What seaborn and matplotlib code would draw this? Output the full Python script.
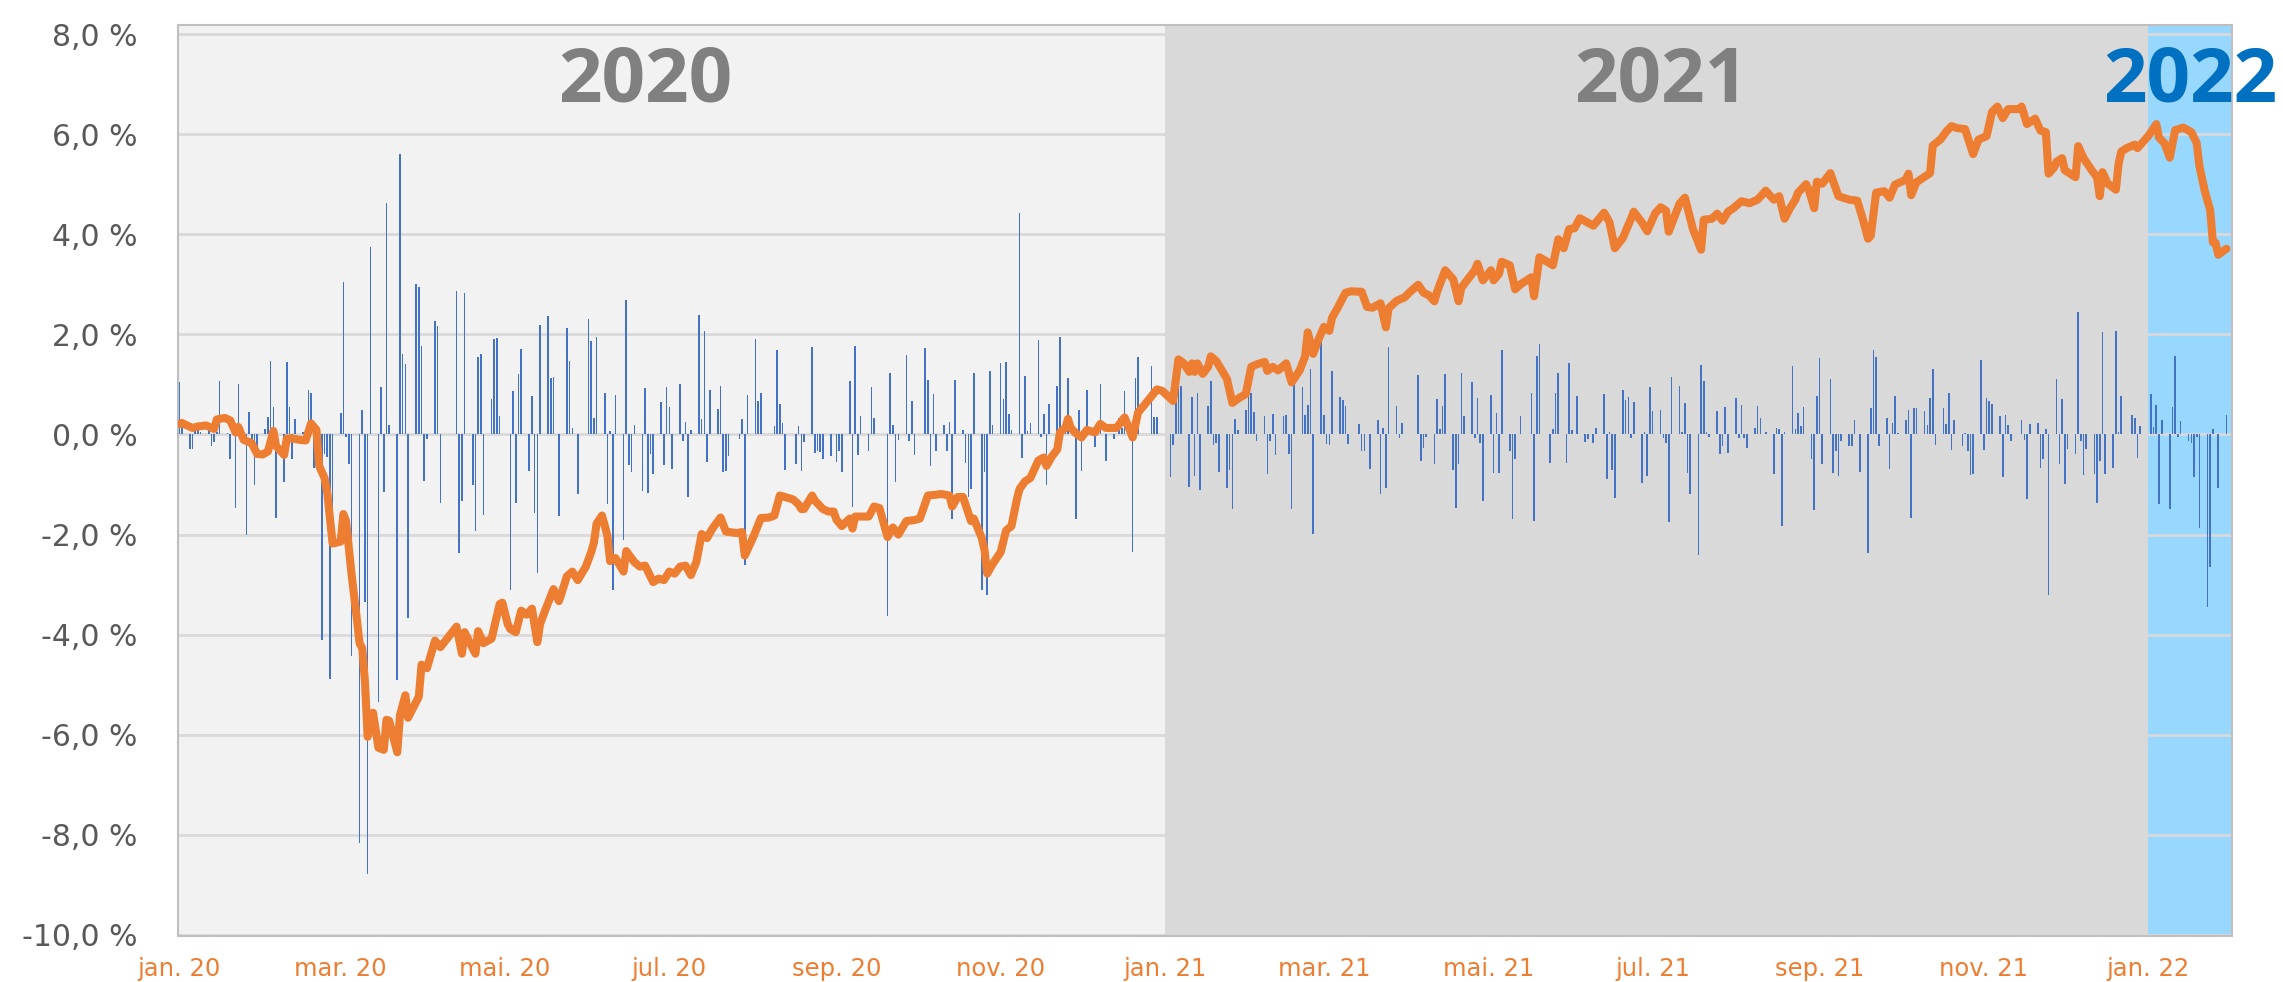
import numpy as np
import pandas as pd
import matplotlib
matplotlib.use("Agg")
import matplotlib.pyplot as plt
import matplotlib.dates as mdates
import seaborn as sns

# ---------------- data ----------------
# daily returns (%), one row per week Mon..Fri
bars_2020 = [  # weeks starting Mon 2019-12-30
    [0, 0, 0, 1.04, 0.2],
    [-0.3, -0.3, 0.1, 0.1, 0.05],
    [0.1, -0.23, -0.15, 0.05, 1.06],
    [0.03, -0.49, 0.1, -1.46, 1.01],
    [-2.0, 0.44, -0.3, -1.0, -0.25],
    [0.1, 0.34, 1.47, 0.55, -1.67],
    [-0.95, 1.44, 0.54, -0.49, 0.3],
    [0.05, 0.05, 0.89, 0.83, -0.68],
    [-4.1, -0.4, -0.45, -4.89, -1.5],
    [0.42, 3.04, -0.05, -0.6, -4.43],
    [-8.17, 0.49, -3.34, -8.78, 3.75],
    [-5.35, 0.94, -1.15, 4.63, 0.19],
    [-4.91, 5.61, 1.61, 1.41, -3.66],
    [3.0, 2.95, 1.76, -0.92, -0.1],
    [2.27, 2.16, -1.36, 0.0, 0.0],
    [0.0, 2.86, -2.37, -1.33, 2.83],
    [-1.0, -1.92, 1.55, 1.61, -1.6],
    [0.71, 1.9, 1.92, 0.37, 0.0],
    [-3.1, 0.87, -1.36, 1.2, 1.7],
    [-0.73, 0.76, -1.56, -2.77, 2.19],
    [2.37, 1.12, 1.15, 0.0, -1.62],
    [2.12, 1.47, 0.13, 0.0, -1.18],
    [0.0, 2.3, 1.87, 0.33, 1.94],
    [0.83, -1.38, 0.06, -3.1, 0.78],
    [-2.11, 2.69, -0.62, -0.75, 0.19],
    [-1.13, 0.92, -1.16, -0.39, -0.8],
    [0.65, -0.61, 0.94, 0.55, -0.69],
    [1.01, -0.13, 0.24, -1.25, 0.08],
    [2.39, 0.3, 2.07, -0.56, 0.89],
    [0.5, 0.97, -0.75, -0.73, -0.44],
    [0.0, -0.1, 0.3, -2.61, 0.78],
    [1.91, 0.66, 0.83, 0.0, 0.0],
    [0.16, 1.69, 0.61, 0.22, -0.71],
    [0.0, -0.6, 0.16, -0.73, -0.15],
    [1.75, -0.37, -0.33, -0.35, -0.49],
    [-0.44, 0.0, -0.55, -0.33, -0.76],
    [1.06, -1.44, 1.76, -0.41, 0.37],
    [-0.33, 0.95, 0.33, 0.0, 0.0],
    [-3.63, 1.22, 0.19, -0.94, -0.11],
    [1.59, -0.13, 0.66, -0.41, 0.0],
    [1.73, 1.09, -0.64, 0.8, -0.33],
    [0.19, -0.33, 0.25, -1.68, 1.09],
    [0.09, -0.58, -1.25, -1.09, 1.22],
    [-3.1, -0.76, -3.2, 1.26, 0.19],
    [1.43, 0.7, 1.45, 0.4, 0.08],
    [4.42, -0.48, 1.17, 0.06, 0.22],
    [1.89, -0.06, 0.4, -1.0, 0.61],
    [0.97, 1.95, -0.1, 0.2, 1.12],
    [-1.68, 0.49, -0.73, 0.1, 0.89],
    [-0.25, 0.0, 1.0, 0.0, -0.54],
    [-0.1, 0.0, 0.33, 0.13, 0.87],
    [-2.35, 1.12, 1.55, 0.0, 0.0],
    [1.36, 0.34, 0.34, 0.0, 0.0],
]
bars_2021 = [  # weeks starting Mon 2021-01-04
    [-0.85, -0.22, 0.87, 1.35, 0.97],
    [-1.04, 0.75, -0.83, 0.82, -1.11],
    [0.57, 1.07, -0.21, -0.17, -0.75],
    [-1.06, -0.72, -1.49, 0.3, 0.08],
    [0.49, 0.83, 0.82, 0.45, -0.13],
    [0.36, -0.8, -0.13, 0.41, -0.42],
    [0.36, 0.39, -0.39, -1.49, 1.07],
    [0.95, 0.39, 0.59, 1.31, -1.98],
    [1.9, 0.39, -0.2, -0.21, 1.26],
    [0.75, 0.68, 0.57, -0.2, 0.0],
    [0.21, -0.34, -0.34, 0.0, -0.7],
    [0.28, -1.18, 0.13, -1.06, 1.75],
    [0.57, -0.07, 0.23, 0.0, 0.0],
    [0.0, 1.18, -0.54, -0.27, -0.06],
    [-0.6, 0.7, 0.11, 0.57, 1.21],
    [-0.72, -1.47, -0.6, 1.23, 0.36],
    [1.05, -0.07, 0.73, -0.17, -1.32],
    [0.78, -0.78, 0.43, -0.78, 1.69],
    [-0.34, -1.68, -0.5, 0.0, 0.36],
    [0.0, 0.82, -1.73, 1.57, 1.8],
    [0.0, -0.58, 0.1, 0.82, 1.23],
    [-0.58, 1.43, 0.08, 0.0, 0.76],
    [-0.15, -0.1, 0.0, -0.17, 0.13],
    [0.8, -0.89, 0.04, -0.72, -1.27],
    [0.88, 0.68, 0.75, -0.07, 0.64],
    [-0.96, 0.04, -0.83, 0.94, 0.47],
    [0.49, -0.07, -0.17, -1.75, 1.14],
    [0.96, 0.04, 0.63, -0.78, -1.18],
    [-2.4, 1.38, 1.07, 0.04, -0.05],
    [0.47, -0.39, -0.23, 0.54, -0.37],
    [0.73, -0.07, 0.59, -0.07, -0.27],
    [0.13, 0.57, 0.32, 0.0, 0.04],
    [-0.8, 0.13, 0.11, -1.83, 0.04],
    [1.36, 0.11, 0.42, 0.17, 0.54],
    [-0.5, -1.51, 0.76, 1.52, -0.6],
    [1.11, -0.78, -0.34, -0.83, -0.13],
    [-0.23, -0.23, 0.28, 0.0, -0.75],
    [-2.37, 0.52, 1.69, 1.54, -0.23],
    [0.33, -0.7, 0.22, 0.76, 0.03],
    [0.29, 0.49, -1.67, 0.52, 0.52],
    [0.47, 0.18, 0.73, 1.31, -0.22],
    [0.52, 0.21, 0.82, -0.32, 0.28],
    [-0.23, 0.03, -0.34, -0.82, -0.8],
    [1.49, -0.32, 0.72, 0.66, 0.61],
    [0.36, -0.85, 0.39, 0.18, -0.14],
    [0.0, 0.28, -0.12, -1.29, 0.21],
    [0.23, -0.68, -0.5, 0.1, -3.2],
    [1.11, -0.6, 0.7, -0.98, -0.3],
    [-0.39, 2.45, -0.13, -0.81, -0.3],
    [-0.8, -1.36, -0.54, 2.04, -0.8],
    [-0.67, 2.07, 0.04, 0.76, 0.0],
    [0.39, 0.33, -0.47, 0.17, 0.0],
]
bars_2022 = [  # weeks starting Mon 2022-01-03
    [0.8, 0.14, 0.59, -1.39, 0.28],
    [-1.49, 0.54, 1.57, -0.06, 0.26],
    [-0.14, -0.18, -0.85, -0.06, -1.87],
    [-3.45, -2.64, 0.1, 0.0, -1.07],
    [0.39],
]

# cumulative line (%): day offset from 2020-01-01 and value
line_day = [1, 2, 6, 8, 11, 14, 15, 18, 20, 22, 23, 25, 27, 28, 30, 32, 34, 36, 37, 40,
            41, 43, 46, 48, 50, 52, 53, 55, 56, 58, 61, 62, 63, 65, 67, 68, 69, 70, 71, 73,
            75, 77, 78, 79, 82, 83, 85, 86, 90, 91, 93, 96, 98, 104, 106, 107, 111, 112, 114, 117,
            120, 121, 123, 124, 126, 128, 130, 132, 134, 135, 137, 140, 142, 143, 145, 147, 149, 152, 154, 155,
            156, 158, 160, 161, 163, 166, 167, 170, 172, 174, 177, 179, 181, 183, 185, 187, 189, 191, 193, 195,
            197, 199, 202, 204, 208, 210, 211, 214, 217, 220, 222, 224, 226, 229, 231, 232, 233, 236, 237, 240,
            242, 244, 245, 247, 250, 251, 252, 257, 259, 261, 264, 266, 268, 271, 274, 276, 279, 281, 284, 287,
            288, 290, 292, 295, 296, 299, 300, 301, 303, 306, 308, 310, 312, 313, 315, 317, 320, 322, 323, 325,
            327, 328, 330, 331, 332, 334, 336, 338, 341, 343, 345, 349, 352, 353, 355, 357, 360, 364, 366, 370,
            372, 374, 376, 377, 378, 379, 381, 383, 384, 386, 388, 390, 391, 392, 394, 397, 399, 401, 404, 405,
            407, 409, 412, 414, 417, 419, 420, 422, 424, 426, 428, 429, 431, 434, 436, 440, 442, 444, 447, 449,
            450, 453, 456, 458, 461, 463, 465, 467, 468, 471, 474, 476, 477, 480, 482, 483, 485, 488, 489, 491,
            492, 495, 497, 499, 503, 504, 506, 511, 513, 515, 517, 519, 521, 526, 530, 532, 534, 537, 540, 541,
            544, 546, 549, 551, 553, 554, 557, 558, 560, 563, 566, 567, 570, 572, 574, 576, 578, 581, 584, 587,
            590, 593, 595, 597, 599, 601, 602, 605, 606, 608, 609, 611, 614, 617, 621, 624, 626, 628, 629, 631,
            634, 636, 638, 642, 643, 644, 646, 651, 652, 655, 657, 659, 661, 664, 667, 669, 672, 674, 676, 678,
            680, 684, 685, 687, 690, 692, 694, 695, 697, 698, 700, 701, 705, 706, 708, 711, 713, 714, 715, 717,
            720, 721, 722, 724, 727, 728, 732, 735, 736, 738, 740, 742, 745, 748, 750, 751, 753, 755, 756, 757,
            758, 761]
line_val = [0.21, 0.23, 0.13, 0.16, 0.18, 0.11, 0.30, 0.33, 0.28, 0.04, 0.15, -0.11, -0.15, -0.18, -0.39, -0.40, -0.34, 0.07, -0.23, -0.41,
            -0.08, -0.08, -0.11, -0.12, 0.22, 0.09, -0.63, -0.87, -1.16, -2.18, -2.14, -1.59, -1.73, -2.78, -3.69, -4.17, -4.27, -4.94, -6.04, -5.56,
            -6.26, -6.30, -5.70, -5.72, -6.35, -5.61, -5.21, -5.66, -5.24, -4.60, -4.67, -4.12, -4.25, -3.84, -4.38, -3.95, -4.38, -3.93, -4.17, -4.08,
            -3.39, -3.36, -3.79, -3.89, -3.95, -3.52, -3.60, -3.48, -4.15, -3.79, -3.50, -3.09, -3.33, -3.17, -2.83, -2.74, -2.91, -2.64, -2.35, -2.16,
            -1.78, -1.62, -2.02, -2.53, -2.47, -2.74, -2.33, -2.55, -2.64, -2.62, -2.95, -2.88, -2.91, -2.74, -2.78, -2.64, -2.62, -2.81, -2.55, -1.99,
            -2.07, -1.88, -1.66, -1.94, -1.97, -1.95, -2.42, -2.07, -1.67, -1.66, -1.62, -1.22, -1.25, -1.30, -1.40, -1.49, -1.49, -1.22, -1.32, -1.49,
            -1.54, -1.54, -1.70, -1.83, -1.68, -1.88, -1.64, -1.64, -1.44, -1.47, -2.05, -1.86, -2.00, -1.73, -1.71, -1.68, -1.22, -1.21, -1.19, -1.22,
            -1.44, -1.25, -1.25, -1.73, -1.68, -2.07, -2.31, -2.78, -2.59, -2.35, -1.92, -1.83, -1.30, -1.09, -0.94, -0.87, -0.52, -0.46, -0.63, -0.44,
            -0.30, 0.04, 0.13, 0.31, 0.13, 0.02, -0.06, 0.09, 0.04, 0.21, 0.13, 0.13, 0.34, 0.21, -0.06, 0.44, 0.63, 0.90, 0.87, 0.67,
            1.50, 1.42, 1.25, 1.42, 1.25, 1.42, 1.21, 1.35, 1.56, 1.47, 1.29, 1.11, 0.87, 0.63, 0.71, 0.81, 1.35, 1.40, 1.45, 1.27,
            1.35, 1.28, 1.42, 1.04, 1.28, 1.56, 2.04, 1.61, 1.90, 2.15, 2.07, 2.33, 2.52, 2.83, 2.86, 2.85, 2.55, 2.53, 2.62, 2.14,
            2.52, 2.67, 2.74, 2.85, 2.99, 2.83, 2.78, 2.66, 2.85, 3.28, 3.10, 2.66, 2.93, 3.14, 3.28, 3.41, 3.08, 3.28, 3.08, 3.21,
            3.45, 3.38, 2.90, 3.00, 3.14, 2.76, 3.54, 3.38, 3.90, 3.72, 4.10, 4.12, 4.32, 4.17, 4.43, 4.24, 3.72, 3.93, 4.31, 4.45,
            4.24, 4.06, 4.42, 4.54, 4.47, 4.05, 4.47, 4.61, 4.73, 4.10, 3.69, 4.29, 4.31, 4.41, 4.27, 4.45, 4.52, 4.66, 4.62, 4.69,
            4.87, 4.69, 4.76, 4.31, 4.52, 4.69, 4.83, 5.00, 4.89, 4.52, 5.05, 5.01, 5.22, 4.76, 4.69, 4.67, 4.31, 3.91, 3.97, 4.83,
            4.86, 4.73, 4.99, 5.09, 5.21, 4.78, 5.04, 5.22, 5.77, 5.90, 6.05, 6.16, 6.12, 6.10, 5.60, 5.89, 5.96, 6.44, 6.55, 6.32,
            6.50, 6.50, 6.55, 6.20, 6.31, 6.07, 6.04, 5.21, 5.33, 5.45, 5.52, 5.28, 5.14, 5.76, 5.52, 5.28, 5.14, 4.76, 5.24, 5.01,
            4.89, 5.41, 5.65, 5.72, 5.79, 5.72, 5.96, 6.20, 5.93, 5.82, 5.53, 6.08, 6.13, 6.04, 5.82, 5.36, 4.86, 4.48, 3.84, 3.83,
            3.59, 3.71]

tick_dates = ["2020-01-02", "2020-03-02", "2020-05-02", "2020-07-02", "2020-09-02", "2020-11-02",
              "2021-01-02", "2021-03-02", "2021-05-02", "2021-07-02", "2021-09-02", "2021-11-02",
              "2022-01-02"]
tick_labels = ["jan. 20", "mar. 20", "mai. 20", "jul. 20", "sep. 20", "nov. 20",
               "jan. 21", "mar. 21", "mai. 21", "jul. 21", "sep. 21", "nov. 21", "jan. 22"]
y_ticks = [-10, -8, -6, -4, -2, 0, 2, 4, 6, 8]
year_labels = ["2020", "2021", "2022"]
year_colors = ["#808080", "#808080", "#0070C0"]
year_starts = ["2020-01-02", "2021-01-02", "2022-01-02"]

# ---------------- build frames ----------------
def block(weeks, start):
    vals = [v for w in weeks for v in w]
    dates = pd.bdate_range(start, periods=len(vals))
    return pd.DataFrame({"date": dates, "ret": vals})

bars = pd.concat([block(bars_2020, "2019-12-30"),
                  block(bars_2021, "2021-01-04"),
                  block(bars_2022, "2022-01-03")], ignore_index=True)
bars["x"] = mdates.date2num(bars["date"])

base = pd.Timestamp("2020-01-01")
line = pd.DataFrame({"date": [base + pd.Timedelta(days=d) for d in line_day], "val": line_val})
line["x"] = mdates.date2num(line["date"])

# ---------------- figure ----------------
sns.set_style("white")
plt.rcParams["font.family"] = ["DejaVu Sans"]

W, H = 2283, 982
fig = plt.figure(figsize=(W / 100, H / 100), dpi=100)
ax = fig.add_axes([178 / W, 1 - 936 / H, (2232 - 178) / W, (936 - 25) / H])

x0 = mdates.date2num(pd.Timestamp("2020-01-02")) - 0.4
x1 = mdates.date2num(pd.Timestamp("2022-02-02")) + 0.1
ys = [mdates.date2num(pd.Timestamp(s)) for s in year_starts]

ax.set_facecolor("#F2F2F2")
ax.axvspan(ys[1], ys[2], color="#D9D9D9", lw=0, zorder=0.2)
ax.axvspan(ys[2], x1, color="#98D8FE", lw=0, zorder=0.2)

ax.bar(bars["x"], bars["ret"], width=0.6, color="#4472C4", linewidth=0, zorder=2)
sns.lineplot(data=line, x="x", y="val", ax=ax, color="#ED7D31", linewidth=5.8,
             estimator=None, sort=True, zorder=3, solid_joinstyle="round", solid_capstyle="round")

ax.set_xlim(x0, x1)
ax.set_ylim(-10.02, 8.18)
ax.set_yticks(y_ticks)
ax.set_yticklabels([f"{v:.1f}".replace(".", ",") + " %" for v in y_ticks])
ax.set_xticks([mdates.date2num(pd.Timestamp(s)) for s in tick_dates])
ax.set_xticklabels(tick_labels)
ax.set_xlabel("")
ax.set_ylabel("")

ax.yaxis.grid(True, color="#D9D9D9", linewidth=2.0, zorder=0.5)
ax.xaxis.grid(False)
ax.set_axisbelow(True)

ax.tick_params(axis="y", length=4, width=1.2, color="#BFBFBF", pad=25,
               labelsize=21.5, labelcolor="#595959")
ax.tick_params(axis="x", length=0, pad=15, labelsize=17.5, labelcolor="#ED7D31")

for s in ax.spines.values():
    s.set_visible(True)
    s.set_color("#BFBFBF")
    s.set_linewidth(1.5)

# big year labels
year_x = [645, 1661, 2190]
for lab, col, xp in zip(year_labels, year_colors, year_x):
    fig.text(xp / W, 1 - 82 / H, lab, ha="center", va="center", color=col,
             fontsize=55, fontweight="bold", family=["Open Sans", "DejaVu Sans"])

fig.savefig("out.png", dpi=100, facecolor="white")
